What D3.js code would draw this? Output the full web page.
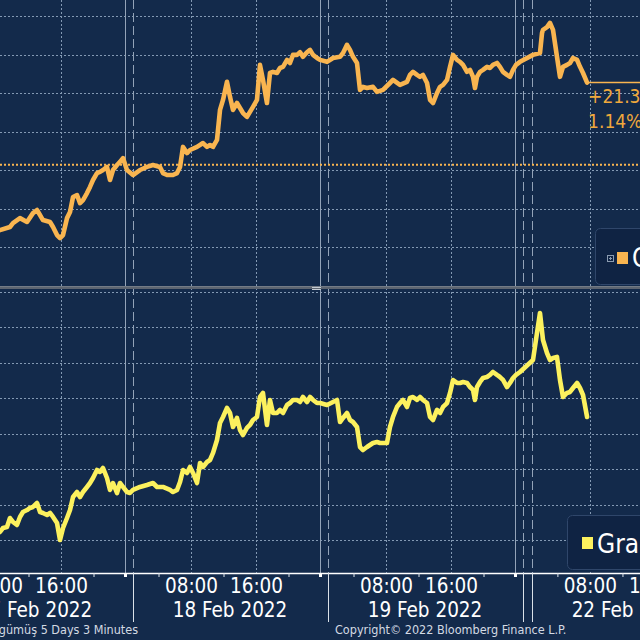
<!DOCTYPE html>
<html><head><meta charset="utf-8">
<script src="https://cdn.jsdelivr.net/npm/d3@7"></script>
<style>html,body{margin:0;padding:0;background:#132a4b;overflow:hidden}svg{display:block}</style>
</head><body><svg id="c" width="640" height="640"></svg>
<script>
// ---------------- DATA ----------------
// time: hours since 17 Feb 2022 00:00 (weekend / holiday gap compressed by the scale)
const onsHours = [8.49,9.72,10.09,10.95,11.82,12.55,13.05,13.78,14.65,15.02,15.51,15.88,16.25,16.74,17.11,17.48,17.97,18.34,18.71,19.2,19.57,19.94,20.43,20.8,21.17,21.66,22.03,22.4,22.89,23.26,23.63,24.12,24.86,25.72,26.58,27.32,28.18,28.55,29.05,29.78,30.28,30.65,31.02,31.51,31.88,32.74,33.48,33.97,34.34,34.71,35.2,35.57,35.94,36.43,36.8,37.17,37.66,38.03,38.4,38.89,39.26,39.63,40.12,40.49,40.86,41.35,41.72,42.09,42.58,42.95,43.32,43.82,44.18,44.55,45.05,45.42,45.78,46.28,46.65,47.02,47.51,47.88,48.74,49.48,50.34,50.71,51.2,51.57,51.94,52.43,52.8,53.17,53.66,54.4,54.89,55.63,56.49,56.86,57.72,58.58,58.95,59.32,59.82,60.18,60.55,61.05,61.42,61.78,62.28,62.65,63.02,63.51,63.88,64.25,64.74,65.11,65.48,65.97,66.34,66.71,66.95,67.2,67.57,67.94,68.43,68.8,69.17,69.66,70.03,70.4,70.89,71.26,71.63,72.0,72.5,121,121.86,122.11,122.23,122.72,123.09,123.46,123.95,124.32,124.69,125.18,125.55,125.92,126.42,126.78,127.15,127.65];
const onsValues = [1854.4,1855.2,1856.2,1857.5,1856.5,1858.8,1859.6,1857.0,1856.5,1855.2,1853.1,1852.3,1853.1,1857.5,1859.1,1863.0,1863.5,1861.4,1862.2,1864.0,1865.6,1867.4,1869.2,1869.5,1870.0,1870.8,1867.4,1870.0,1871.3,1872.1,1873.1,1870.0,1868.7,1870.0,1870.8,1871.3,1870.8,1869.2,1868.7,1868.7,1869.2,1870.8,1876.0,1874.4,1875.2,1876.0,1877.0,1876.0,1876.5,1876.0,1877.8,1885.6,1888.2,1892.9,1889.0,1885.6,1887.4,1886.1,1884.8,1883.8,1885.1,1886.4,1888.2,1897.3,1893.4,1887.4,1895.2,1895.5,1895.2,1896.5,1896.8,1898.6,1897.8,1899.9,1899.9,1900.6,1899.4,1900.6,1901.2,1899.9,1899.1,1898.6,1898.1,1899.1,1899.4,1900.4,1902.5,1901.2,1899.4,1897.8,1890.8,1891.6,1891.3,1891.6,1890.3,1890.8,1892.6,1893.4,1892.1,1892.9,1894.7,1895.5,1894.7,1894.2,1894.7,1892.6,1888.2,1887.4,1890.0,1891.6,1892.1,1893.4,1896.8,1899.9,1898.6,1898.1,1897.3,1895.5,1896.0,1894.2,1891.3,1894.2,1895.5,1896.0,1896.8,1896.5,1897.3,1897.8,1896.8,1895.5,1894.7,1894.2,1896.0,1897.3,1898.1,1899.9,1900.4,1905.6,1906.4,1907.1,1908.2,1906.4,1899.4,1894.2,1896.8,1897.3,1897.8,1899.1,1898.6,1896.8,1895.2,1892.7];
const gramHours = [8.49,8.86,9.35,9.72,10.09,10.58,10.95,11.32,11.82,12.18,12.55,13.05,13.42,13.78,14.28,14.65,15.02,15.51,15.88,16.25,16.74,17.11,17.48,17.97,18.34,18.71,19.2,19.57,19.94,20.43,20.8,21.17,21.66,22.03,22.4,22.89,23.26,23.63,24.12,24.49,24.86,25.72,26.58,27.32,27.82,28.55,29.42,29.78,30.28,30.65,31.02,31.51,31.88,32.25,32.74,33.11,33.48,33.97,34.34,34.71,35.2,35.57,35.94,36.43,36.8,37.17,37.66,38.03,38.4,38.89,39.26,39.63,40.12,40.49,40.86,41.35,41.72,42.09,42.58,42.95,43.32,43.82,44.18,44.55,45.05,45.42,45.78,46.28,46.65,47.02,47.51,47.88,48.74,49.48,49.97,50.34,50.71,51.2,51.57,51.94,52.43,52.8,53.17,53.66,54.4,54.89,55.26,56.12,56.49,56.86,57.35,57.72,58.09,58.58,58.95,59.32,59.82,60.18,60.55,61.05,61.42,61.78,62.28,62.65,63.02,63.51,63.88,64.25,64.74,65.11,65.48,65.97,66.34,66.71,66.95,67.2,67.57,67.94,68.43,68.8,69.17,69.66,70.03,70.4,70.89,71.26,71.63,72.0,72.5,121,121.49,121.86,122.23,122.72,123.09,123.46,123.95,124.32,124.69,125.18,125.55,125.92,126.42,126.78,127.15,127.65];
const gramValues = [811.13,811.69,811.83,813.10,812.54,812.12,813.25,813.95,814.23,814.52,814.66,815.22,813.95,813.81,813.53,813.81,813.25,812.40,810.00,811.69,813.10,814.23,816.07,816.77,816.07,816.77,817.48,818.04,818.75,819.88,819.60,820.16,818.75,817.06,818.04,816.63,818.04,817.48,816.77,816.63,817.06,817.48,817.76,818.04,817.48,817.48,817.06,816.77,817.06,818.19,819.88,819.46,820.30,819.46,818.04,820.87,820.30,821.01,821.29,822.28,824.11,826.51,827.36,828.63,827.92,825.95,827.22,825.52,824.82,825.81,826.23,826.93,827.36,830.18,830.75,826.23,829.76,827.92,827.92,828.35,827.92,829.05,829.33,829.76,829.76,829.48,830.18,829.48,830.18,829.76,829.33,829.33,829.05,829.48,829.76,826.65,827.22,827.92,826.93,826.65,825.95,823.12,822.70,823.12,823.69,823.83,823.69,823.69,825.95,827.36,828.77,829.33,829.76,828.77,830.04,830.18,829.76,830.18,829.76,829.33,827.36,826.93,828.35,827.92,828.77,829.33,830.75,832.58,832.16,832.16,832.30,832.16,831.59,831.17,829.76,831.59,832.30,832.86,833.00,833.29,833.71,833.29,833.00,832.58,831.59,832.16,832.86,833.29,833.71,835.40,839.21,842.04,838.22,836.39,835.40,835.68,835.83,832.58,830.18,830.75,830.89,831.45,832.16,831.45,830.46,827.36];

const majorTickHours = [8,16,32,40,56,64,128,136];
const minorTickHours = [12,20,28,36,44,52,60,68,124,132];
const dayLabels = ["17 Feb 2022","18 Feb 2022","19 Feb 2022","22 Feb 2022"];
const dayLabelHours = [12.8,36.8,60.8,132.8];
const sessionCloseHours = [24,48,72];
const sessionOpenHours = [25,49,73,121];
const onsGrid = [1850,1860,1870,1880,1890,1900,1910];
const gramGrid = [810,815,820,825,830,835,840,845];
const onsPrevClose = 1871.36;
const onsChangeText = ["+21.34","1.14%"];
const seriesNames = ["Ons Altın","Gram Altın"];
const footerLeft = "Altın ve gümüş 5 Days 3 Minutes";
const footerRight = "Copyright© 2022 Bloomberg Finance L.P.";

// ---------------- STYLE ----------------
const W = 640, H = 640, axisY = 573;
const bg = "#132a4b", gridCol = "#8399b3", sessCol = "#93a3b8";
const onsCol = "#f9b550", gramCol = "#fcf15e", onsTxt = "#f0a83c";
const FONT = "'DejaVu Sans Condensed','DejaVu Sans',sans-serif";

const x = d3.scaleLinear().domain([0,72,73,121,136]).range([-69,516,524,533,655]);
const yTop = d3.scaleLinear().domain([1839.61,1914.16]).range([287,0]);
const yBot = d3.scaleLinear().domain([805.34,845.28]).range([573,290]);

const svg = d3.select("#c");
svg.append("rect").attr("width",W).attr("height",H).attr("fill",bg);

const grid = svg.append("g").attr("shape-rendering","crispEdges");
grid.selectAll(".hgt").data(onsGrid).join("line")
  .attr("x1",0).attr("x2",W).attr("y1",d=>Math.round(yTop(d))+0.5).attr("y2",d=>Math.round(yTop(d))+0.5)
  .attr("stroke",gridCol).attr("stroke-dasharray","2,2");
grid.selectAll(".hgb").data(gramGrid).join("line")
  .attr("x1",0).attr("x2",W).attr("y1",d=>Math.round(yBot(d))+0.5).attr("y2",d=>Math.round(yBot(d))+0.5)
  .attr("stroke",gridCol).attr("stroke-dasharray","2,2");
grid.selectAll(".vg").data(majorTickHours).join("line")
  .attr("x1",d=>Math.round(x(d))+0.5).attr("x2",d=>Math.round(x(d))+0.5).attr("y1",0).attr("y2",axisY)
  .attr("stroke",gridCol).attr("stroke-dasharray","2,2");
grid.selectAll(".sc").data(sessionCloseHours).join("line")
  .attr("x1",d=>Math.round(x(d))-0.5).attr("x2",d=>Math.round(x(d))-0.5).attr("y1",0).attr("y2",axisY)
  .attr("stroke",sessCol);
grid.selectAll(".so").data(sessionOpenHours).join("line")
  .attr("x1",d=>Math.round(x(d))-0.5).attr("x2",d=>Math.round(x(d))-0.5).attr("y1",0).attr("y2",axisY)
  .attr("stroke",sessCol).attr("stroke-dasharray","9,4");

svg.append("line").attr("x1",0).attr("x2",W)
  .attr("y1",yTop(onsPrevClose)).attr("y2",yTop(onsPrevClose))
  .attr("stroke",onsCol).attr("stroke-width",2).attr("stroke-dasharray","2,2");

const onsData = d3.zip(onsHours,onsValues);
const gramData = d3.zip(gramHours,gramValues);
svg.append("path").datum(onsData)
  .attr("d",d3.line().x(d=>x(d[0])).y(d=>yTop(d[1])))
  .attr("fill","none").attr("stroke",onsCol).attr("stroke-width",4.6)
  .attr("stroke-linejoin","round").attr("stroke-linecap","round");
svg.append("path").datum(gramData)
  .attr("d",d3.line().x(d=>x(d[0])).y(d=>yBot(d[1])))
  .attr("fill","none").attr("stroke",gramCol).attr("stroke-width",4.6)
  .attr("stroke-linejoin","round").attr("stroke-linecap","round");

const last = onsData[onsData.length-1];
svg.append("line").attr("x1",x(last[0])).attr("x2",W)
  .attr("y1",yTop(last[1])).attr("y2",yTop(last[1]))
  .attr("stroke",onsCol).attr("stroke-width",1.5);
svg.selectAll(".chg").data(onsChangeText).join("text")
  .attr("x",x(last[0])+1).attr("y",(d,i)=>103+i*25)
  .attr("fill",onsTxt).attr("font-family",FONT).attr("font-size",19).text(d=>d);

svg.append("rect").attr("x",0).attr("y",286).attr("width",W).attr("height",3).attr("fill","#5d6571");
svg.append("line").attr("x1",0).attr("x2",W).attr("y1",286.5).attr("y2",286.5).attr("stroke","#737b86");
svg.selectAll(".hdl").data([287.5,289.5]).join("line")
  .attr("x1",312).attr("x2",321).attr("y1",d=>d).attr("y2",d=>d).attr("stroke","#c5ccd4");

function legend(bx,by,bh,col,name,icon,tx,ty,sy){
  const g = svg.append("g");
  g.append("rect").attr("x",bx+0.5).attr("y",by+0.5).attr("width",W-bx+20).attr("height",bh)
    .attr("rx",5).attr("fill","#0f2343").attr("stroke","#2f466a");
  if(icon){
    g.append("rect").attr("x",tx-24.5).attr("y",sy+3.5).attr("width",6).attr("height",6)
      .attr("fill","none").attr("stroke","#8b9bb0");
    g.append("path").attr("d",`M${tx-23},${sy+6.5}h3M${tx-21.5},${sy+5}v3`).attr("stroke","#8b9bb0");
  }
  g.append("rect").attr("x",tx-15).attr("y",sy).attr("width",11).attr("height",12).attr("fill",col);
  g.append("text").attr("x",tx).attr("y",ty).attr("fill","#ffffff")
    .attr("font-family",FONT).attr("font-size",26).text(name);
}
legend(595,228,56,onsCol,seriesNames[0],true,632,267,252);
legend(567,515,54,gramCol,seriesNames[1],false,597,553,537);

svg.append("line").attr("x1",0).attr("x2",W).attr("y1",axisY+0.5).attr("y2",axisY+0.5)
  .attr("stroke","#ffffff").attr("stroke-width",1.5);
const minorAx = svg.append("g").attr("transform",`translate(0,${axisY})`)
  .call(d3.axisBottom(x).tickValues(minorTickHours).tickSize(4).tickFormat(""));
minorAx.select(".domain").remove();
minorAx.selectAll("line").attr("stroke","#dfe5ec");
svg.selectAll(".scT").data(sessionCloseHours).join("rect")
  .attr("x",d=>Math.round(x(d))-2).attr("y",axisY).attr("width",3).attr("height",4).attr("fill","#ffffff");
svg.selectAll(".soT").data(sessionOpenHours).join("line")
  .attr("x1",d=>Math.round(x(d))-0.5).attr("x2",d=>Math.round(x(d))-0.5)
  .attr("y1",axisY).attr("y2",622).attr("stroke","#d9e0e8");

const majorAx = svg.append("g").attr("transform",`translate(0,${axisY})`)
  .call(d3.axisBottom(x).tickValues(majorTickHours).tickSize(0)
    .tickFormat(h=>String(h%24).padStart(2,"0")+":00"));
majorAx.select(".domain").remove();
majorAx.selectAll("text").attr("y",20).attr("dy",0)
  .attr("fill","#ffffff").attr("font-family",FONT).attr("font-size",20.5);

svg.selectAll(".dl").data(dayLabels).join("text")
  .attr("x",(d,i)=>x(dayLabelHours[i])).attr("y",617).attr("text-anchor","middle")
  .attr("fill","#ffffff").attr("font-family",FONT).attr("font-size",20.5).text(d=>d);

svg.append("text").attr("x",138).attr("y",634).attr("text-anchor","end")
  .attr("fill","#d3dae3").attr("font-family",FONT).attr("font-size",12.5).text(footerLeft);
svg.append("text").attr("x",335).attr("y",634)
  .attr("fill","#d3dae3").attr("font-family",FONT).attr("font-size",12.5).text(footerRight);
</script>
</body></html>
